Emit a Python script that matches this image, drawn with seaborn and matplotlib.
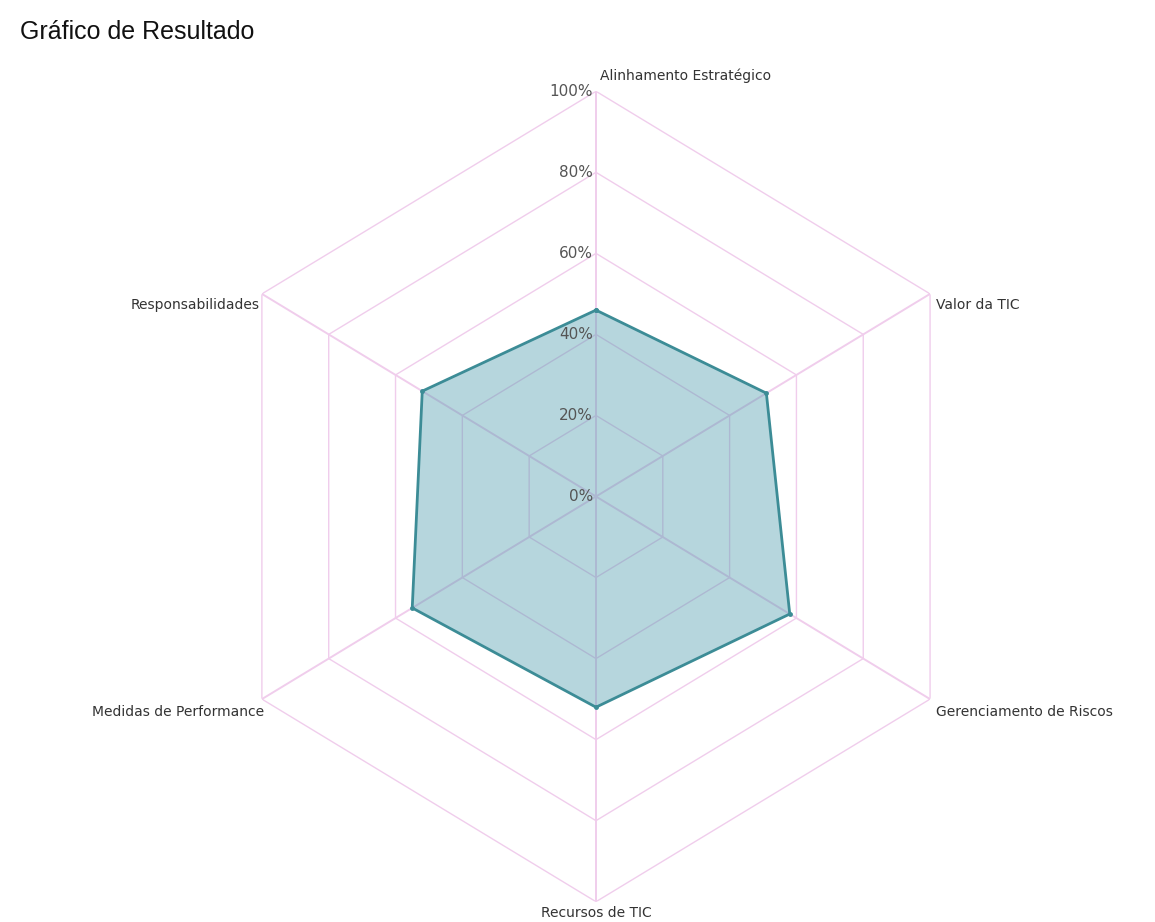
import numpy as np
import pandas as pd
import matplotlib
matplotlib.use("Agg")
import matplotlib.pyplot as plt
import seaborn as sns

# Dados do gráfico
categorias = ["Alinhamento Estratégico", "Valor da TIC", "Gerenciamento de Riscos",
              "Recursos de TIC", "Medidas de Performance", "Responsabilidades"]
valores = [46, 51, 58, 52, 55, 52]
niveis = [0, 20, 40, 60, 80, 100]
rotulos_niveis = ["0%", "20%", "40%", "60%", "80%", "100%"]

sns.set_style("white")
plt.rcParams["font.family"] = ["DejaVu Sans"]

cor_grade = "#f0cdec"
cor_linha = "#3c8c96"
cor_fill = "#4a9aab"

fig = plt.figure(figsize=(11.55, 9.22), dpi=100)
ax = fig.add_axes([0.182, 0.022, 0.668, 0.879], projection="polar")
ax.set_aspect("auto")
ax.set_theta_zero_location("N")
ax.set_theta_direction(-1)

n = len(categorias)
angulos = np.linspace(0, 2 * np.pi, n, endpoint=False)
ang_fechado = np.append(angulos, angulos[0] + 2 * np.pi)

# grade hexagonal
for nv in niveis[1:]:
    ax.plot(ang_fechado, [nv] * (n + 1), color=cor_grade, lw=1, zorder=1)
for a in angulos:
    ax.plot([a, a], [0, 100], color=cor_grade, lw=1.4, zorder=1)

# série
df = pd.DataFrame({"angulo": ang_fechado, "valor": valores + [valores[0]]})
ax.fill(df["angulo"], df["valor"], color=cor_fill, alpha=0.4, lw=0, zorder=2)
sns.lineplot(data=df, x="angulo", y="valor", sort=False, ax=ax, color=cor_linha,
             lw=2, marker="o", markersize=3.5, markeredgewidth=0, zorder=3)

ax.set_ylim(0, 100)
ax.set_xticks([])
ax.set_yticks([])
ax.set_xlabel("")
ax.set_ylabel("")
ax.grid(False)
ax.spines["polar"].set_visible(False)

# rótulos radiais
for nv, rot in zip(niveis, rotulos_niveis):
    ax.annotate(rot, (0, nv), xytext=(-3, 0), textcoords="offset pixels",
                ha="right", va="center", fontsize=11, color="#555555", zorder=4)

# rótulos das categorias
posicoes = [((4, 8), "left", "bottom"), ((6, -11), "left", "center"),
            ((6, -13), "left", "center"), ((0, -4), "center", "top"),
            ((2, -13), "right", "center"), ((-2, -11), "right", "center")]
for a, cat, (off, ha, va) in zip(angulos, categorias, posicoes):
    ax.annotate(cat, (a, 100), xytext=off, textcoords="offset pixels",
                ha=ha, va=va, fontsize=10, color="#333333")

fig.text(20 / 1155, 1 - 32 / 922, "Gráfico de Resultado", fontsize=18,
         family="Liberation Sans", color="#111111", ha="left", va="center")

fig.savefig("out.png", dpi=100)
